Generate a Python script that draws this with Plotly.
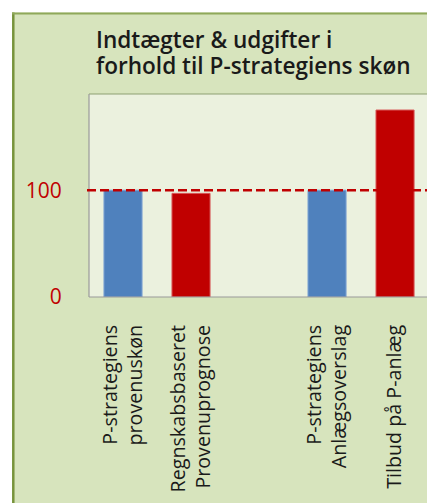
import plotly.graph_objects as go

categories = ["P-strategiens<br>provenuskøn", "Regnskabsbaseret<br>Provenuprognose", " ",
              "P-strategiens<br>Anlægsoverslag", "Tilbud på P-anlæg"]
values = [100, 97, None, 100, 175]
bar_colors = ["#4F81BD", "#C00000", "#C00000", "#4F81BD", "#C00000"]
edge_colors = ["#7EA3D3", "#D85A5A", "#D85A5A", "#7EA3D3", "#D85A5A"]
reference_level = 100
y_ticks = [0, 100]
title_lines = ["Indtægter & udgifter i", "forhold til P-strategiens skøn"]

W, H = 427, 503
L, R, T, B = 89, 0, 94, 206
pw, ph = W - L - R, H - T - B

def px(x):
    return (x - L) / pw

def py(y):
    return (H - B - y) / ph

FONT = "Open Sans"

fig = go.Figure()
fig.add_trace(go.Bar(
    x=categories, y=values,
    marker=dict(color=bar_colors, line=dict(color=edge_colors, width=1)),
    width=0.56, showlegend=False, hoverinfo="skip",
))

shapes = [
    dict(type="rect", xref="paper", yref="paper", x0=px(0), x1=px(W + 5), y0=py(12.5), y1=py(-5),
         fillcolor="white", line=dict(width=0), layer="below"),
    dict(type="rect", xref="paper", yref="paper", x0=px(-5), x1=px(12), y0=py(H + 5), y1=py(-5),
         fillcolor="white", line=dict(width=0), layer="below"),
    dict(type="line", xref="paper", yref="paper", x0=px(13.3), x1=px(13.3), y0=py(12.5), y1=py(H + 5),
         line=dict(color="#77933C", width=2.5)),
    dict(type="line", xref="paper", yref="paper", x0=px(12), x1=px(W + 5), y0=py(13.5), y1=py(13.5),
         line=dict(color="#8FA85A", width=2)),
    dict(type="line", xref="paper", yref="paper", x0=0, x1=1.05, y0=1, y1=1,
         line=dict(color="#8E9F73", width=1.2)),
    dict(type="line", xref="paper", yref="paper", x0=0, x1=0, y0=0, y1=1,
         line=dict(color="#9A9A9A", width=1.2)),
    dict(type="line", xref="paper", yref="paper", x0=0, x1=1.05, y0=0, y1=0,
         line=dict(color="#9A9A9A", width=1.2)),
    dict(type="line", xref="paper", yref="y", x0=px(87), x1=1.05,
         y0=reference_level, y1=reference_level,
         line=dict(color="#C00000", width=2.5, dash="9px,4px")),
]

title_text = "<br>".join(f"<span style='font-size:22.6px'>{line}</span>" for line in title_lines)
annotations = [
    dict(text=title_text, xref="paper", yref="paper",
         x=px(94), y=py(22), xanchor="left", yanchor="top", align="left",
         showarrow=False, font=dict(family=FONT, size=20, color="#1A1A1A", weight=600))
]

fig.update_layout(
    width=W, height=H, autosize=False,
    margin=dict(l=L, r=R, t=T, b=B, pad=0),
    paper_bgcolor="#D7E4BD", plot_bgcolor="#EBF1DE",
    shapes=shapes,
    font=dict(family=FONT, color="#1A1A1A"),
    annotations=annotations,
)
fig.update_xaxes(
    range=[-0.5, 4.47], tickangle=-90, showgrid=False, zeroline=False, showline=False,
    ticks="outside", ticklen=19, tickcolor="rgba(0,0,0,0)",
    tickfont=dict(family=FONT, size=19.7, color="#1A1A1A"),
)
fig.update_yaxes(
    range=[0, 190], tickvals=y_ticks, showgrid=False, zeroline=False, showline=False,
    ticks="outside", ticklen=22, tickcolor="rgba(0,0,0,0)",
    tickfont=dict(family=FONT, size=21, color="#C00000"),
)

fig.write_html(
    "out.html",
    config={"displayModeBar": False, "staticPlot": True},
    post_script="document.body.style.margin='0';document.body.style.overflow='hidden';",
)
